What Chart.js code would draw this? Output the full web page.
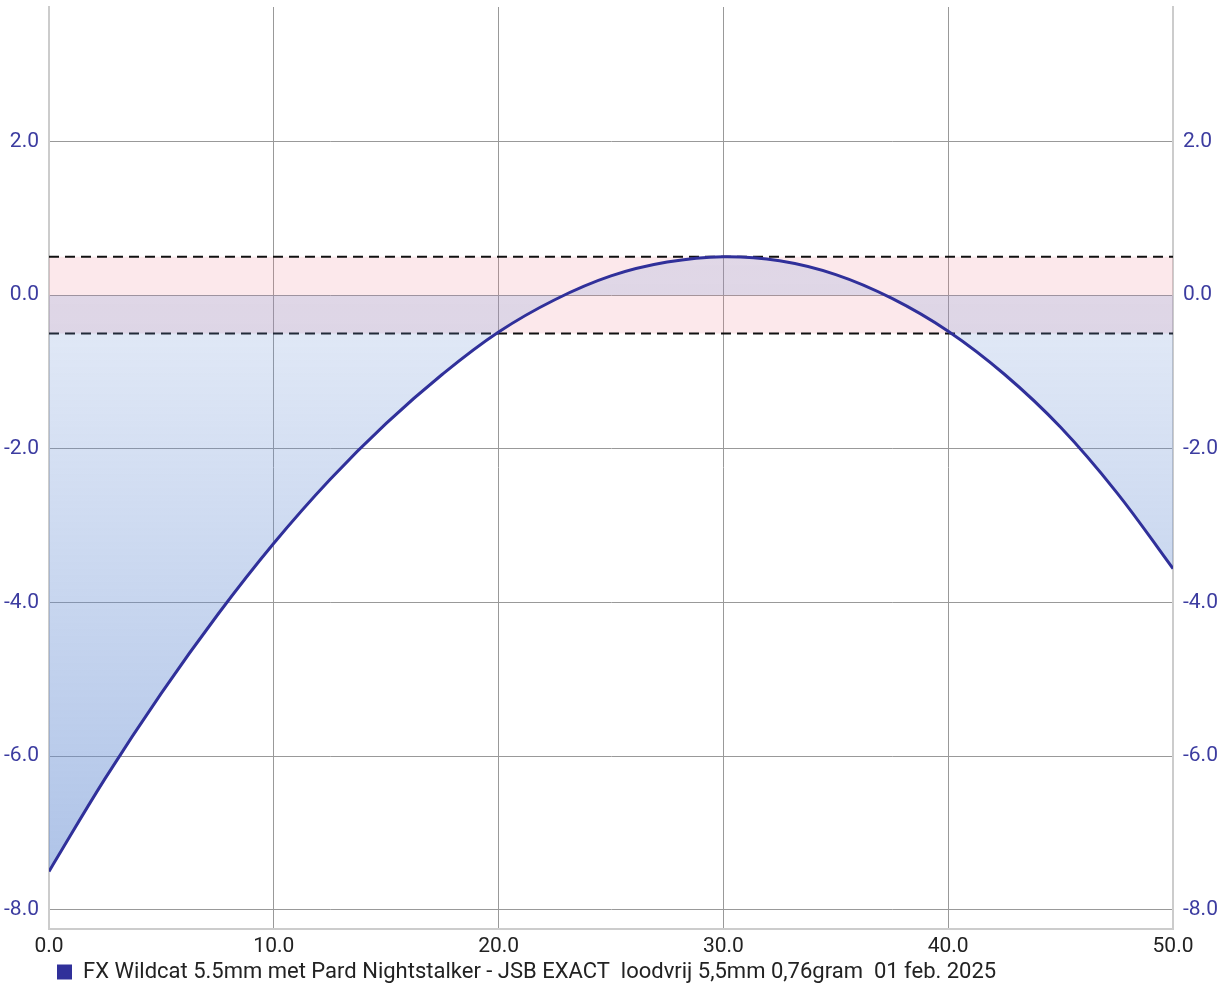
<!DOCTYPE html>
<html>
<head>
<meta charset="utf-8">
<script src="https://cdn.jsdelivr.net/npm/chart.js@4"></script>
<style>
    html, body { margin: 0; padding: 0; background: #fff; }
    #wrap { width: 1230px; height: 985px; }
</style>
</head>
<body>
<div id="wrap"><canvas id="trajChart"></canvas></div>
<script>
// distance (m) and trajectory (cm)
const distances = [0, 2.5, 5, 7.5, 10, 12.5, 15, 17.5, 20, 22.5, 25, 27.5, 30, 32.5, 35, 37.5, 40, 42.5, 45, 47.5, 50];
const trajectory = [-7.5, -6.29, -5.18, -4.16, -3.23, -2.40, -1.67, -1.03, -0.48, -0.06, 0.25, 0.43, 0.5, 0.447, 0.267, -0.043, -0.47, -1.03, -1.72, -2.57, -3.56];
const bandLimits = [-0.5, 0.5];
const xTicks = [0, 10, 20, 30, 40, 50];
const yTicks = [-8, -6, -4, -2, 0, 2];
const seriesName = 'FX Wildcat 5.5mm met Pard Nightstalker - JSB EXACT  loodvrij 5,5mm 0,76gram  01 feb. 2025';

const lineColor = '#30309a';
const tickFont = { family: 'Roboto', size: 21 };

function fillGradient(context) {
    const chart = context.chart;
    const area = chart.chartArea;
    if (!area) return 'rgba(100,140,210,0.3)';
    const g = chart.ctx.createLinearGradient(0, area.top, 0, area.bottom);
    g.addColorStop(0, 'rgba(100,140,210,0.12)');
    g.addColorStop(0.35, 'rgba(100,140,210,0.2)');
    g.addColorStop(1, 'rgba(100,140,210,0.55)');
    return g;
}

const edgeX = [distances[0], distances[distances.length - 1]];

new Chart(document.getElementById('trajChart'), {
    type: 'line',
    data: {
        datasets: [
            {
                label: 'upper',
                data: edgeX.map(x => ({ x: x, y: bandLimits[1] })),
                borderColor: '#111',
                borderWidth: 2,
                borderDash: [10, 6],
                pointRadius: 0,
                fill: false,
                order: 3
            },
            {
                label: 'lower',
                data: edgeX.map(x => ({ x: x, y: bandLimits[0] })),
                borderColor: '#111',
                borderWidth: 2,
                borderDash: [10, 6],
                pointRadius: 0,
                fill: '-1',
                backgroundColor: 'rgba(240,128,145,0.18)',
                order: 3
            },
            {
                label: seriesName,
                data: distances.map((x, i) => ({ x: x, y: trajectory[i] })),
                borderColor: lineColor,
                borderWidth: 3,
                backgroundColor: fillGradient,
                fill: 'origin',
                pointRadius: 0,
                tension: 0.4,
                order: 1
            }
        ]
    },
    options: {
        responsive: true,
        maintainAspectRatio: false,
        animation: false,
        // legend reserves extra room below itself, pull it back down
        layout: { padding: { left: 0, right: 0, top: 7, bottom: -8 } },
        plugins: {
            legend: {
                position: 'bottom',
                align: 'start',
                fullSize: false,
                labels: {
                    color: '#222',
                    font: { family: 'Roboto', size: 22 },
                    boxWidth: 15,
                    boxHeight: 15,
                    padding: 8,
                    filter: item => item.datasetIndex === 2,
                    generateLabels: chart => {
                        const items = Chart.defaults.plugins.legend.labels.generateLabels(chart);
                        items.forEach(it => {
                            it.fillStyle = lineColor;
                            it.strokeStyle = lineColor;
                            it.lineWidth = 0;
                        });
                        return items;
                    }
                }
            },
            tooltip: { enabled: false }
        },
        scales: {
            x: {
                type: 'linear',
                min: 0,
                max: 50,
                afterBuildTicks: axis => { axis.ticks = xTicks.map(v => ({ value: v })); },
                afterFit: axis => { axis.height = 24; axis.paddingLeft = 0; axis.paddingRight = 0; },
                ticks: {
                    color: '#222',
                    font: tickFont,
                    padding: 5,
                    maxRotation: 0,
                    callback: v => Number(v).toFixed(1)
                },
                grid: { color: '#999', lineWidth: 1, drawTicks: false },
                border: { color: '#ccc', width: 2 }
            },
            y: {
                position: 'left',
                min: -8.25,
                max: 3.75,
                afterBuildTicks: axis => { axis.ticks = yTicks.map(v => ({ value: v })); },
                afterFit: axis => { axis.width = 49; axis.paddingTop = 0; axis.paddingBottom = 0; },
                ticks: {
                    color: '#3c3ca0',
                    font: tickFont,
                    padding: 10,
                    callback: v => Number(v).toFixed(1)
                },
                grid: { color: '#999', lineWidth: 1, drawTicks: false },
                border: { color: '#ccc', width: 2 }
            },
            y2: {
                position: 'right',
                min: -8.25,
                max: 3.75,
                afterBuildTicks: axis => { axis.ticks = yTicks.map(v => ({ value: v })); },
                afterFit: axis => { axis.width = 57; axis.paddingTop = 0; axis.paddingBottom = 0; },
                ticks: {
                    color: '#3c3ca0',
                    font: tickFont,
                    padding: 10,
                    callback: v => Number(v).toFixed(1)
                },
                grid: { display: false, drawTicks: false },
                border: { color: '#ccc', width: 2 }
            }
        }
    }
});
</script>
</body>
</html>
